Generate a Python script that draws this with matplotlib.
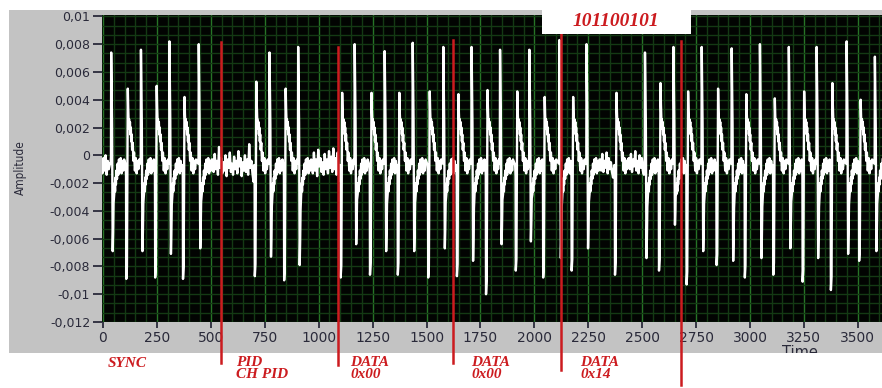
import numpy as np
import matplotlib
matplotlib.use("Agg")
import matplotlib.pyplot as plt
from matplotlib.patches import Rectangle
from matplotlib.transforms import blended_transform_factory, Bbox, TransformedBbox

W, H = 882, 388

# ---- signal description (amplitudes in units of 1e-3) ----
# time of each bit transition, spike order (U: positive spike first, D: negative first)
pulse_t = [38, 108, 176, 242, 308, 371, 444,
           704, 772, 840, 905,
           1102, 1167, 1238, 1306, 1367, 1436, 1508, 1578, 1641, 1709,
           1776, 1841, 1914, 1977, 2041, 2116, 2173, 2242,
           2374,
           2513, 2578, 2645, 2706, 2776, 2845, 2915, 2976, 3046, 3108,
           3180, 3244, 3309, 3375, 3448, 3506, 3579]
pulse_kind = "UDUDUDU" "DUDU" "DUDUDUDUDU" "DUDUDUDU" "D" "UDUDUDUDUD" "UDUDUDU"
pulse_hi = [7.4, 4.8, 7.6, 5.0, 8.2, 4.2, 8.0,
            5.3, 7.4, 4.8, 7.8,
            4.5, 8.0, 4.5, 7.5, 4.5, 8.1, 4.6, 7.8, 4.4, 7.8,
            4.7, 7.6, 4.6, 7.6, 4.2, 8.3, 4.2, 8.0,
            4.5,
            7.4, 5.2, 7.8, 4.6, 7.8, 4.8, 7.7, 4.4, 8.0, 4.1,
            7.8, 4.6, 7.8, 5.2, 8.2, 4.0, 7.1]
pulse_lo = [-6.9, -8.9, -6.9, -8.8, -7.1, -8.9, -6.7,
            -8.7, -7.3, -9.0, -7.9,
            -8.8, -6.4, -8.6, -6.9, -8.6, -6.9, -8.8, -6.7, -8.7, -7.6,
            -10.0, -6.4, -8.3, -6.2, -8.8, -7.4, -8.3, -6.7,
            -8.6,
            -7.4, -8.3, -5.0, -9.3, -6.9, -7.9, -7.6, -8.8, -7.4, -8.6,
            -6.7, -9.1, -7.4, -9.7, -7.1, -7.6, -6.9]

# idle line noise between frames, sampled every 5 time units from each start time
idle_start = [-8, 508, 968, 2305, 2438]
idle_a = [-0.5, -1.3, -0.2, -1.1, 0.0, -1.4, -0.4, -1.0, -0.6]
idle_b = [-0.3, -1.2, 0.1, -1.0, -0.4, -1.4, 0.6, -0.9, -0.2, -1.3,
          -0.5, -1.1, 0.0, -1.5, -0.3, -0.9, 0.2, -1.2, -0.6, -1.4,
          -0.1, -1.0, -0.4, -1.3, 0.3, -0.8, -0.2, -1.5, -0.5, -1.1,
          0.0, -1.2, -0.3, -1.4, 0.8, -0.9, -0.4, -1.3, -1.9]
idle_c = [-0.4, -1.3, 0.2, -1.1, -0.3, -1.5, 0.4, -0.8, -0.2, -1.2,
          -0.5, -1.4, 0.1, -1.0, -0.3, -1.3, 0.3, -0.9, -0.1, -1.2,
          0.5, -1.0, -0.2, -1.4, 0.2, -1.1, -1.8]
idle_d = [-0.3, -1.1, 0.1, -1.2, -0.4, -0.9, 0.2, -1.3, -0.2, -1.0, -0.5, -1.2, -1.6]
idle_e = [-0.2, -1.0, 0.1, -1.2, -0.3, -0.8, 0.3, -1.1, -0.4, -1.3, 0.0, -0.9, -0.2, -1.1, -1.4]

# axis ticks
x_ticks = [0, 250, 500, 750, 1000, 1250, 1500, 1750, 2000, 2250, 2500, 2750, 3000, 3250, 3500]
y_ticks = [-0.012, -0.01, -0.008, -0.006, -0.004, -0.002, 0, 0.002, 0.004, 0.006, 0.008, 0.01]
y_labels = ["-0,012", "-0,01", "-0,008", "-0,006", "-0,004", "-0,002", "0",
            "0,002", "0,004", "0,006", "0,008", "0,01"]

# frame field markers
marker_t = [547, 1090, 1621, 2122, 2681]
field_text = ["SYNC", "PID\nCH PID", "DATA\n0x00", "DATA\n0x00", "DATA\n0x14"]
frame_bits = "101100101"


def pulse_vertices(t0, kind, hi, lo):
    """Vertices of one transition: a sharp spike pair followed by a noisy decay."""
    if kind == "U":
        off = [-3, -1, 0, 2, 4, 7, 9, 11, 14, 16, 18, 20, 22, 24, 27, 30,
               33, 36, 40, 44, 48, 52, 56, 60]
        val = [-0.6, -0.1, hi, 0.6 * hi, 0.3 * hi, lo, 0.8 * lo, 0.5 * lo,
               -2.8, -2.0, -2.6, -1.6, -2.1, -1.1, -1.7, -0.6,
               -1.4, -0.3, -1.2, -0.2, -1.3, -0.4, -1.1, -0.3]
    else:
        off = [-3, -1, 0, 3, 7, 9, 11, 13, 15, 17, 19, 21, 23, 25, 27, 30,
               33, 36, 40, 44, 48, 52, 56, 60]
        val = [-0.7, -1.5, lo, 0.9 * lo, hi, 0.7 * hi, 0.5 * hi, 2.6,
               1.9, 2.4, 1.5, 2.0, 1.0, 1.5, 0.4, 0.9,
               -0.4, 0.2, -1.1, -0.2, -1.3, -0.4, -1.0, -0.3]
    return [t0 + o for o in off], val


ts, vs = [], []
for i, (t0, k, hi, lo) in enumerate(zip(pulse_t, pulse_kind, pulse_hi, pulse_lo)):
    nxt = pulse_t[i + 1] if i + 1 < len(pulse_t) else np.inf
    pt, pv = pulse_vertices(t0, k, hi, lo)
    for a, b in zip(pt, pv):
        if a < nxt - 3:
            ts.append(a)
            vs.append(b)
for start, seg in zip(idle_start, [idle_a, idle_b, idle_c, idle_d, idle_e]):
    ts.extend(start + 5 * np.arange(len(seg)))
    vs.extend(seg)
order = np.argsort(ts, kind="stable")
sig_t = np.asarray(ts, float)[order]
sig_v = np.asarray(vs, float)[order] * 1e-3

# ---- figure ----
fig = plt.figure(figsize=(W / 100, H / 100), dpi=100)
fig.patch.set_facecolor("white")


def fx(px):
    return px / W


def fy(py):
    return 1 - py / H


panel = Rectangle((fx(9), fy(353)), fx(882) - fx(9), fy(10) - fy(353),
                  transform=fig.transFigure, facecolor="#c3c3c3", edgecolor="none", zorder=-5)
fig.add_artist(panel)

ax = fig.add_axes([fx(102), fy(322), fx(882) - fx(102), fy(15) - fy(322)])
ax.set_facecolor("#020402")
ax.set_xlim(-4.6, 3612)
ax.set_ylim(-0.012, 0.0101)
for s in ax.spines.values():
    s.set_visible(False)

# grid
minor_green, major_green = "#143a14", "#267426"
for gx in np.arange(0, 3650, 50):
    ax.axvline(gx, color=major_green if gx % 250 == 0 else minor_green, lw=1.0, zorder=1)
for gy in np.arange(-0.012, 0.0102, 0.002 / 3):
    ax.axhline(gy, color=minor_green, lw=1.0, zorder=1)

ax.plot(sig_t, sig_v, color="white", lw=1.7, zorder=3)

tick_color = "#2a2a3a"
ax.set_xticks(x_ticks)
ax.set_xticklabels([str(v) for v in x_ticks])
ax.set_yticks(y_ticks)
ax.set_yticklabels(y_labels)
ax.tick_params(axis="y", direction="out", length=6.5, width=1.3, pad=2,
               colors=tick_color, labelsize=9)
ax.tick_params(axis="x", direction="out", length=4.3, width=1.3, pad=2,
               colors=tick_color, labelsize=10)

fig.text(fx(20), fy(168), "Amplitude", rotation=90, ha="center", va="center",
         fontsize=8.5, fontstretch="condensed", color=tick_color)
t_lbl = fig.text(fx(800), fy(345), "Time", ha="center", va="top", fontsize=10.5,
                 color=tick_color)
t_lbl.set_clip_box(TransformedBbox(Bbox([[fx(9), fy(353)], [1, fy(10)]]), fig.transFigure))
t_lbl.set_clip_on(True)

# red field markers
red = "#cc1b1f"
marker_top = [42, 47, 40, 30, 41]
marker_bot = [363, 365, 363, 370, 385]
blend = blended_transform_factory(ax.transData, fig.transFigure)
for t, y0, y1 in zip(marker_t, marker_top, marker_bot):
    ax.plot([t, t], [fy(y0), fy(y1)], color=red, lw=1.8, transform=blend,
            clip_on=False, zorder=5)

label_font = dict(family="Liberation Serif", weight="bold", style="italic",
                  color=red, fontsize=11, va="top", ha="left", linespacing=0.92)
label_pos = [(108, 357), (236, 356), (350, 356), (471, 356), (580, 356)]
for txt, (px, py) in zip(field_text, label_pos):
    fig.text(fx(px), fy(py), txt, **label_font)

# bit pattern box
box = Rectangle((fx(542), fy(34)), fx(691) - fx(542), fy(9) - fy(34),
                transform=fig.transFigure, facecolor="white", edgecolor="none", zorder=5)
fig.add_artist(box)
fig.text(fx(616), fy(21), frame_bits, family="Liberation Serif", weight="bold",
         style="italic", color=red, fontsize=14, ha="center", va="center", zorder=6)

fig.savefig("out.png", dpi=100)
